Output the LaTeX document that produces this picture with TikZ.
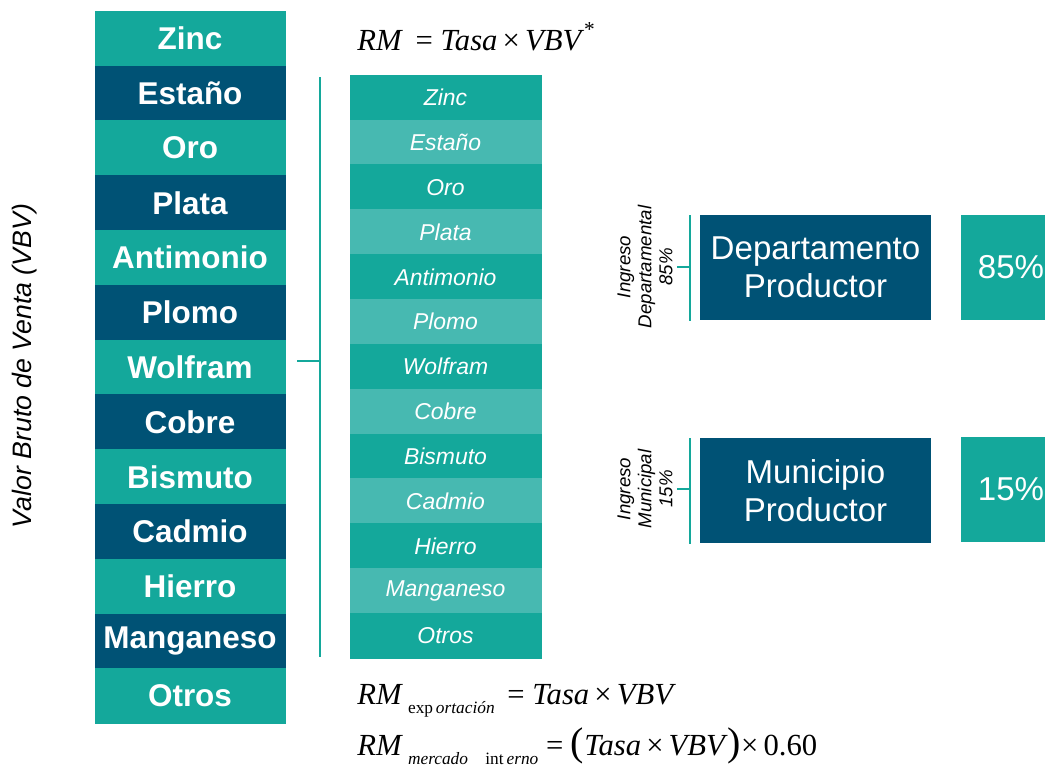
\documentclass[tikz,border=0pt]{standalone}
\usepackage{fontspec}
\setmainfont{Liberation Sans}
\newfontfamily\tnr{Liberation Serif}
\definecolor{tealA}{HTML}{14A89B}
\definecolor{tealB}{HTML}{47B9B1}
\definecolor{navy}{HTML}{005275}
\tikzset{
  lbox/.style={minimum width=142.5pt,minimum height=41.1pt,inner sep=0pt,text=white,line width=0.4pt,font=\fontsize{23.6}{26}\selectfont\bfseries},
  mbox/.style={minimum width=143.25pt,minimum height=33.6pt,inner sep=0pt,text=white,line width=0.4pt,font=\fontsize{17.2}{19}\selectfont\itshape},
  bigbox/.style={minimum width=173.25pt,minimum height=78.75pt,inner sep=0pt,text=white,fill=navy,align=center,font=\fontsize{24.8}{28.5}\selectfont},
  pbox/.style={minimum width=63pt,minimum height=78.75pt,inner sep=0pt,text=white,fill=tealA,font=\fontsize{24.8}{28}\selectfont},
  brk/.style={draw=tealA,line width=1.5pt},
  sidelbl/.style={rotate=90,align=center,font=\fontsize{14}{15.75}\selectfont\itshape},
  frm/.style={anchor=base west,inner sep=0pt,font=\tnr\fontsize{23}{26}\selectfont}
}
\begin{document}
\begin{tikzpicture}[x=0.75pt,y=-0.75pt]
\useasboundingbox (0,0) rectangle (1045,771);
% left column
\foreach \nm [count=\i] in {Zinc,Estaño,Oro,Plata,Antimonio,Plomo,Wolfram,Cobre,Bismuto,Cadmio,Hierro,Manganeso,Otros}{
  \ifodd\i\def\cc{tealA}\else\def\cc{navy}\fi
  \node[lbox,fill=\cc,draw=\cc] (l\i) at (190,{11+54.8*(\i-0.5)}) {\nm};
}
% middle column
\foreach \nm [count=\i] in {Zinc,Estaño,Oro,Plata,Antimonio,Plomo,Wolfram,Cobre,Bismuto,Cadmio,Hierro,Manganeso,Otros}{
  \ifodd\i\def\cc{tealA}\else\def\cc{tealB}\fi
  \node[mbox,fill=\cc,draw=\cc] (m\i) at (445.5,{75+44.85*(\i-0.5)}) {\nm};
}
\node[rotate=90,font=\fontsize{20}{22}\selectfont\itshape] (vbv) at (25,366) {Valor Bruto de Venta (VBV)};
% bracket
\coordinate (bt) at (320,77);
\coordinate (bb) at (320,657);
\coordinate (bm) at (320,361);
\coordinate (bl) at (297,361);
\draw[brk] (bt) -- (bb);
\draw[brk] (bl) -- (bm);
% right boxes
\node[bigbox] (dep) at (815.5,267.5) {Departamento\\Productor};
\node[pbox] (p85) at (1003,267.5) {\hspace*{12pt}85\%};
\node[bigbox] (mun) at (815.5,490.5) {Municipio\\Productor};
\node[pbox] (p15) at (1003,489.5) {\hspace*{12pt}15\%};
\coordinate (d1) at (690,215);
\coordinate (d2) at (690,321);
\coordinate (dm) at (690,267);
\coordinate (dl) at (677,267);
\draw[brk] (d1) -- (d2);
\draw[brk] (dl) -- (dm);
\coordinate (u1) at (690,438);
\coordinate (u2) at (690,544);
\coordinate (um) at (690,489);
\coordinate (ul) at (677,489);
\draw[brk] (u1) -- (u2);
\draw[brk] (ul) -- (um);
\node[sidelbl] (ld) at (645,267) {Ingreso\\Departamental\\85\%};
\node[sidelbl] (lm) at (645,489) {Ingreso\\Municipal\\15\%};
% formulas
\node[frm] (f0) at (357,50) {\textit{RM}\, = \textit{Tasa}\,×\,\textit{VBV}\raisebox{0.45em}{\fontsize{16}{16}\selectfont *}};
\node[frm] (f1) at (357,704) {\textit{RM}\,\raisebox{-0.3em}{\fontsize{13}{13}\selectfont exp\,\textit{ortación}}\, = \textit{Tasa}\,×\,\textit{VBV}};
\node[frm] (f2) at (357,755) {\textit{RM}\,\raisebox{-0.3em}{\fontsize{13}{13}\selectfont\textit{mercado}\hspace{1em}int\,\textit{erno}} = {\fontsize{30}{30}\selectfont(}\textit{Tasa}\,×\,\textit{VBV}{\fontsize{30}{30}\selectfont)}×\,0.60};
\end{tikzpicture}
\end{document}
